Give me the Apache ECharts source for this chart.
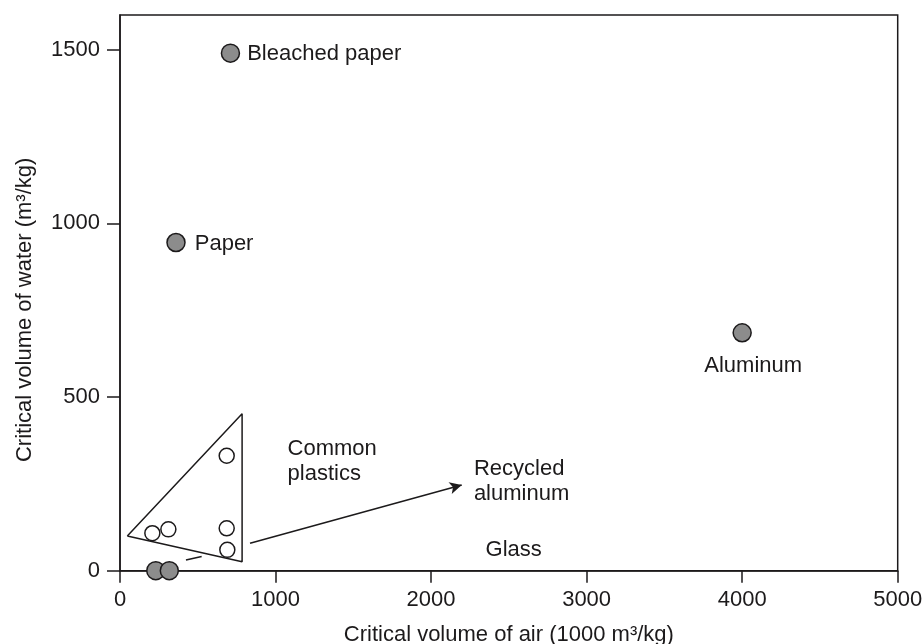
<!DOCTYPE html>
<html>
<head>
<meta charset="utf-8">
<script src="https://cdn.jsdelivr.net/npm/echarts@6/dist/echarts.min.js"></script>
<style>
  html, body { margin: 0; padding: 0; background: #fff; }
  #chart { width: 923px; height: 644px; }
</style>
</head>
<body>
<div id="chart"></div>
<script>
// Critical volumes of water and air per kilogram of material produced

// Named materials (filled markers)
const materialNames = ['Bleached paper', 'Paper', 'Aluminum'];
const materialAir = [710, 360, 4000];
const materialWater = [1490, 945, 685];

// Glass and recycled aluminum (filled markers on the axis)
const lowAir = [230, 317];
const lowWater = [0, 0];

// Common plastics (open markers)
const plasticsAir = [208, 311, 686, 686, 690];
const plasticsWater = [108, 119, 331, 122, 60];

// Outline enclosing the common plastics
const outlineAir = [47, 785, 785, 47];
const outlineWater = [100, 452, 26, 100];

// Pointer from the recycled aluminum marker to its caption (broken by the outline)
const pointerA = [[424, 31], [525, 41]];
const pointerB = [[836, 79], [2197, 247]];

// Free captions (anchored at their left edge)
const captionText = ['Common\nplastics', 'Recycled\naluminum', 'Glass'];
const captionAir = [1074, 2272, 2347];
const captionWater = [316, 257, 60];

// Axis ticks
const xTicks = [0, 1000, 2000, 3000, 4000, 5000];
const yTicks = [0, 500, 1000, 1500];

const INK = '#1c1a1b';
const FONT = 'Liberation Sans, Arial, Helvetica, sans-serif';
const FS = 22;

const zip = (a, b) => a.map((v, i) => [v, b[i]]);
const plain = v => String(v);

const chart = echarts.init(document.getElementById('chart'), null, { renderer: 'canvas' });

const materialLabels = [
  { position: 'right', distance: 7, offset: [0, 1] },
  { position: 'right', distance: 9, offset: [0, 1] },
  { position: 'bottom', distance: 12, offset: [11, 0] }
];

chart.setOption({
  animation: false,
  backgroundColor: '#fff',
  textStyle: { fontFamily: FONT, color: INK },
  grid: {
    left: 120, right: 25.3, top: 15, bottom: 73.3,
    containLabel: false, outerBoundsMode: 'none',
    show: true, borderColor: INK, borderWidth: 1.5, backgroundColor: 'transparent'
  },
  xAxis: {
    type: 'value',
    min: xTicks[0], max: xTicks[xTicks.length - 1], interval: 1000,
    name: 'Critical volume of air (1000 m³/kg)',
    nameLocation: 'middle', nameGap: 53,
    nameTextStyle: { fontSize: FS, color: INK, fontFamily: FONT },
    axisLine: { show: true, onZero: false, lineStyle: { color: INK, width: 1.5 } },
    axisTick: { show: true, length: 12, lineStyle: { color: INK, width: 1.5 } },
    axisLabel: { fontSize: FS, color: INK, margin: 18, fontFamily: FONT, formatter: plain },
    splitLine: { show: false }
  },
  yAxis: {
    type: 'value',
    min: 0, max: 1600,
    name: 'Critical volume of water (m³/kg)',
    nameLocation: 'middle', nameGap: 84,
    nameTextStyle: { fontSize: FS, color: INK, fontFamily: FONT, padding: [0, 34, 0, 0] },
    axisLine: { show: true, onZero: false, lineStyle: { color: INK, width: 1.5 } },
    axisTick: { show: true, length: 13, customValues: yTicks, lineStyle: { color: INK, width: 1.5 } },
    axisLabel: { fontSize: FS, color: INK, margin: 20, customValues: yTicks, fontFamily: FONT, formatter: plain },
    splitLine: { show: false }
  },
  series: [
    {
      name: 'outline',
      type: 'line',
      data: zip(outlineAir, outlineWater),
      symbol: 'none',
      lineStyle: { color: INK, width: 1.5 },
      z: 2,
      markLine: {
        silent: true,
        symbol: ['none', 'arrow'],
        symbolSize: [9, 12],
        label: { show: false },
        lineStyle: { color: INK, width: 1.5, type: 'solid' },
        data: [
          [{ coord: pointerA[0], symbol: 'none' }, { coord: pointerA[1], symbol: 'none' }],
          [{ coord: pointerB[0], symbol: 'none' }, { coord: pointerB[1] }]
        ]
      }
    },
    {
      name: 'materials',
      type: 'scatter',
      clip: false,
      symbol: 'circle',
      symbolSize: 18,
      itemStyle: { color: '#8c8c8c', borderColor: INK, borderWidth: 1.5, opacity: 1 },
      data: materialNames.map((n, i) => ({
        name: n,
        value: [materialAir[i], materialWater[i]],
        label: Object.assign({ show: true, formatter: n, fontSize: FS, color: INK, fontFamily: FONT }, materialLabels[i])
      })),
      z: 4
    },
    {
      name: 'low',
      type: 'scatter',
      clip: false,
      symbol: 'circle',
      symbolSize: 18,
      itemStyle: { color: '#8c8c8c', borderColor: INK, borderWidth: 1.5, opacity: 1 },
      data: zip(lowAir, lowWater),
      z: 4
    },
    {
      name: 'plastics',
      type: 'scatter',
      clip: false,
      symbol: 'circle',
      symbolSize: 15,
      itemStyle: { color: '#ffffff', borderColor: INK, borderWidth: 1.5, opacity: 1 },
      data: zip(plasticsAir, plasticsWater),
      z: 4
    },
    {
      name: 'captions',
      type: 'scatter',
      clip: false,
      symbol: 'circle',
      symbolSize: 1,
      silent: true,
      itemStyle: { color: '#ffffff', borderWidth: 0, opacity: 1 },
      label: {
        show: true, position: 'right', distance: 0, align: 'left', verticalAlign: 'middle',
        fontSize: FS, lineHeight: 25, color: INK, opacity: 1, fontFamily: FONT,
        textBorderWidth: 0,
        formatter: p => captionText[p.dataIndex]
      },
      data: zip(captionAir, captionWater),
      z: 5
    }
  ]
});
</script>
</body>
</html>
